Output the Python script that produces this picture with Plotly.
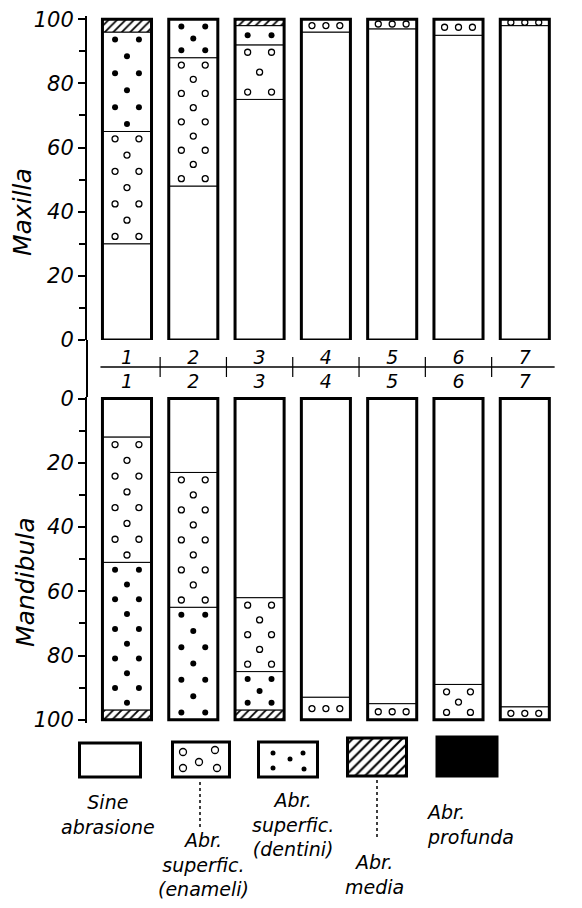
import numpy as np
import plotly.graph_objects as go

# page window is 582x908; the html body has an 8px margin, so the figure is
# sized to fit and every layout position below is given in page pixels.
PAGE_W, PAGE_H = 582, 908
OX, OY = 8, 8
FW, FH = PAGE_W - 2 * OX, PAGE_H - 2 * OY

# ---------------- data ----------------
categories = [1, 2, 3, 4, 5, 6, 7]
category_labels = ["1", "2", "3", "4", "5", "6", "7"]
series_names = ["Sine abrasione", "Abr. superfic. (enameli)",
                "Abr. superfic. (dentini)", "Abr. media", "Abr. profunda"]

# Maxilla (stacked from 0 upward)
maxilla_sine = [30, 48, 75, 96, 97, 95, 98]
maxilla_enameli = [35, 40, 17, 4, 3, 5, 2]
maxilla_dentini = [31, 12, 6, 0, 0, 0, 0]
maxilla_media = [4, 0, 2, 0, 0, 0, 0]
maxilla_profunda = [0, 0, 0, 0, 0, 0, 0]

# Mandibula (stacked from 0 downward, reversed axis)
mandibula_sine = [12, 23, 62, 93, 95, 89, 96]
mandibula_enameli = [39, 42, 23, 7, 5, 11, 4]
mandibula_dentini = [46, 35, 12, 0, 0, 0, 0]
mandibula_media = [3, 0, 3, 0, 0, 0, 0]
mandibula_profunda = [0, 0, 0, 0, 0, 0, 0]

y_tick_vals = [0, 20, 40, 60, 80, 100]
y_tick_text = ["0", "20", "40", "60", "80", "100"]
panel_titles = ["Maxilla", "Mandibula"]
legend_text = ["Sine<br>abrasione", "Abr.<br>superfic.<br>(enameli)",
               "Abr.<br>superfic.<br>(dentini)", "Abr.<br>media", "Abr.<br>profunda"]

# ---------------- style ----------------
FONT = "DejaVu Sans"
BAR_W = 0.74


def fx(p):
    return (p - OX) / FW


def fy(p):
    return 1 - (p - OY) / FH


fig = go.Figure()


def fill_points(lows, highs, kind, top_is_high):
    xs, ys = [], []
    for c, a, b in zip(categories, lows, highs):
        h = b - a
        if h <= 0.5:
            continue
        if h < 8:
            offs = [-0.21, 0.0, 0.21] if kind == "o" else [-0.18, 0.18]
            for o in offs:
                xs.append(c + o)
                ys.append((a + b) / 2)
            continue
        m = 2.3
        n = int((h - 2 * m) // 4.4) + 1
        if h >= 10:
            n = max(n, 3)
        if n == 1:
            rows = [(a + b) / 2]
        elif top_is_high:
            rows = list(np.linspace(b - m, a + m, n))
        else:
            rows = list(np.linspace(a + m, b - m, n))
        for i, r in enumerate(rows):
            offs = [-0.18, 0.18] if i % 2 == 0 else [0.0]
            for o in offs:
                xs.append(c + o)
                ys.append(r)
    return xs, ys


def add_panel(xa, ya, segs, top_is_high):
    base = np.zeros(len(categories))
    styles = [
        dict(color="white"),
        dict(color="white"),
        dict(color="white"),
        dict(color="white", pattern=dict(shape="/", fgcolor="black", bgcolor="white",
                                          size=6, solidity=0.3)),
        dict(color="black"),
    ]
    for name, vals, st in zip(series_names, segs, styles):
        vals = np.array(vals, dtype=float)
        mk = dict(st)
        mk["line"] = dict(color="black", width=1)
        fig.add_trace(go.Bar(x=categories, y=vals, base=base.copy(), width=BAR_W,
                             marker=mk, name=name, xaxis=xa, yaxis=ya,
                             showlegend=False, hoverinfo="skip"))
        lows, highs = base.copy(), base + vals
        if name == series_names[1]:
            xs, ys = fill_points(lows, highs, "o", top_is_high)
            fig.add_trace(go.Scatter(x=xs, y=ys, mode="markers", xaxis=xa, yaxis=ya,
                                     marker=dict(symbol="circle-open", size=6,
                                                 color="black", line=dict(width=1.3)),
                                     showlegend=False, hoverinfo="skip"))
        elif name == series_names[2]:
            xs, ys = fill_points(lows, highs, ".", top_is_high)
            fig.add_trace(go.Scatter(x=xs, y=ys, mode="markers", xaxis=xa, yaxis=ya,
                                     marker=dict(symbol="circle", size=6, color="black"),
                                     showlegend=False, hoverinfo="skip"))
        base = base + vals
    fig.add_trace(go.Bar(x=categories, y=base, base=0, width=BAR_W,
                         marker=dict(color="rgba(0,0,0,0)", line=dict(color="black", width=3)),
                         xaxis=xa, yaxis=ya, showlegend=False, hoverinfo="skip"))


add_panel("x", "y", [maxilla_sine, maxilla_enameli, maxilla_dentini,
                     maxilla_media, maxilla_profunda], True)
add_panel("x2", "y2", [mandibula_sine, mandibula_enameli, mandibula_dentini,
                       mandibula_media, mandibula_profunda], False)

tickfont = dict(family=FONT, size=21, color="black", style="italic")
catfont = dict(family=FONT, size=19, color="black", style="italic")
xdom = [fx(87), fx(561)]
xrange = [0.397, 7.546]
minor_vals = [v + 10 for v in y_tick_vals[:-1]]

common_y = dict(showline=True, linewidth=2, linecolor="black", ticks="outside",
                ticklen=7, tickwidth=2, tickcolor="black", tickvals=y_tick_vals,
                ticktext=y_tick_text, tickfont=tickfont, showgrid=False,
                zeroline=False, automargin=False, ticklabeloverflow="allow",
                minor=dict(tickvals=minor_vals, ticks="outside", ticklen=6,
                           tickwidth=1.5, tickcolor="black", showgrid=False))

fig.update_layout(
    width=FW, height=FH, margin=dict(l=0, r=0, t=0, b=0),
    paper_bgcolor="white", plot_bgcolor="white", barmode="overlay",
    template="none",
    xaxis=dict(domain=xdom, range=xrange, anchor="y", tickvals=categories,
               ticktext=category_labels, tickfont=catfont, ticks="", showline=False,
               showgrid=False, zeroline=False, automargin=False, ticklabelstandoff=4),
    xaxis2=dict(domain=xdom, range=xrange, anchor="y2", side="top", tickvals=categories,
                ticktext=category_labels, tickfont=catfont, ticks="", showline=False,
                showgrid=False, zeroline=False, automargin=False, ticklabelstandoff=4),
    yaxis=dict(domain=[fy(340), fy(16)], range=[0, 101], anchor="x", **common_y),
    yaxis2=dict(domain=[fy(723), fy(397)], range=[101, -0.5], anchor="x2", **common_y),
    xaxis3=dict(domain=[0, 1], range=[OX, OX + FW], anchor="y3", visible=False),
    yaxis3=dict(domain=[0, fy(727)], range=[OY + FH, 727], anchor="x3", visible=False),
)

shapes = []
# axis line continuing between panels
shapes.append(dict(type="line", xref="paper", yref="paper", x0=fx(87), x1=fx(87),
                   y0=fy(340), y1=fy(397), line=dict(color="black", width=2)))
# middle horizontal line with separators
shapes.append(dict(type="line", xref="x", yref="paper", x0=0.6, x1=7.45,
                   y0=fy(367), y1=fy(367), line=dict(color="black", width=1.5)))
for c in categories[:-1]:
    shapes.append(dict(type="line", xref="x", yref="paper", x0=c + 0.5, x1=c + 0.5,
                       y0=fy(357), y1=fy(377), line=dict(color="black", width=1.2)))
# dotted leader lines in legend
shapes.append(dict(type="line", xref="x3", yref="y3", x0=200, x1=200, y0=782, y1=830,
                   line=dict(color="black", width=1.5, dash="dot")))
shapes.append(dict(type="line", xref="x3", yref="y3", x0=377, x1=377, y0=780, y1=840,
                   line=dict(color="black", width=1.5, dash="dot")))
fig.update_layout(shapes=shapes)

# legend swatches (drawn on a hidden axis scaled in page pixels)
sw_x = [110, 201, 288, 377, 467]
sw_w = [61, 57, 59, 59, 60]
sw_top = [743, 742, 742, 738, 737]
sw_h = [34, 35, 35, 38, 39]
sw_styles = [
    dict(color="white", line=dict(color="black", width=3)),
    dict(color="white", line=dict(color="black", width=3)),
    dict(color="white", line=dict(color="black", width=3)),
    dict(color="white", line=dict(color="black", width=3),
         pattern=dict(shape="/", fgcolor="black", bgcolor="white", size=7, solidity=0.3)),
    dict(color="black", line=dict(color="black", width=3)),
]
for i in range(5):
    fig.add_trace(go.Bar(x=[sw_x[i]], y=[sw_h[i]], base=[sw_top[i]], width=sw_w[i],
                         marker=sw_styles[i], xaxis="x3", yaxis="y3",
                         showlegend=False, hoverinfo="skip"))
fig.add_trace(go.Scatter(x=[183, 215, 199, 183, 217], y=[752, 750, 762, 768, 768],
                         mode="markers", xaxis="x3", yaxis="y3", showlegend=False,
                         marker=dict(symbol="circle-open", size=7, color="black",
                                     line=dict(width=1.3)), hoverinfo="skip"))
fig.add_trace(go.Scatter(x=[273, 303, 290, 273, 304], y=[753, 753, 759, 768, 769],
                         mode="markers", xaxis="x3", yaxis="y3", showlegend=False,
                         marker=dict(symbol="circle", size=5, color="black"),
                         hoverinfo="skip"))

LEG_SIZE = 19
LINE_SP = 1.3 * LEG_SIZE
legfont = dict(family=FONT, size=LEG_SIZE, color="black", style="italic")
# (x, first line centre y, xanchor, align)
legend_pos = [(108, 802, "center", "center"), (203, 840, "center", "center"),
              (293, 800, "center", "center"), (374, 862, "center", "center"),
              (424, 812, "left", "left")]
annotations = []
for txt, (x, y1, xa, al) in zip(legend_text, legend_pos):
    n = txt.count("<br>") + 1
    annotations.append(dict(text=txt, x=x, y=y1 + (n - 1) * LINE_SP / 2, xref="x3",
                            yref="y3", xanchor=xa, yanchor="middle", align=al,
                            showarrow=False, font=legfont))
annotations.append(dict(text=panel_titles[0], x=fx(22), y=fy(212), xref="paper", yref="paper",
                        textangle=-90, showarrow=False, xanchor="center", yanchor="middle",
                        font=dict(family=FONT, size=25, color="black", style="italic")))
annotations.append(dict(text=panel_titles[1], x=fx(25), y=fy(582), xref="paper", yref="paper",
                        textangle=-90, showarrow=False, xanchor="center", yanchor="middle",
                        font=dict(family=FONT, size=25, color="black", style="italic")))
fig.update_layout(annotations=annotations)

fig.write_html("out.html")
